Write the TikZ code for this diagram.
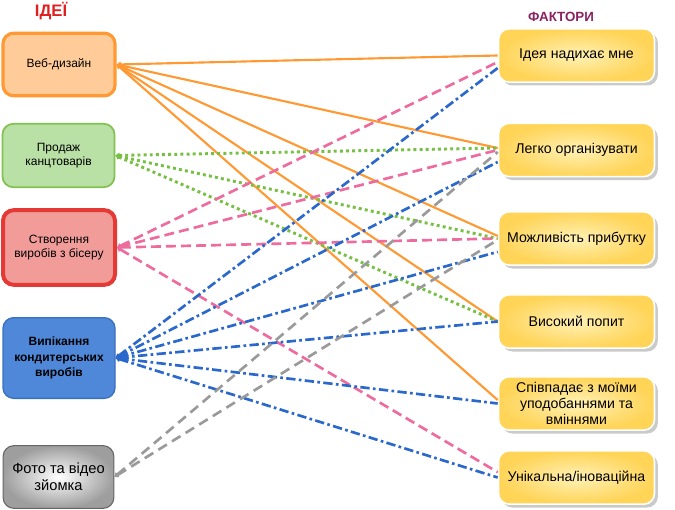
\documentclass[tikz,border=0pt]{standalone}
\usepackage{fontspec}
\setmainfont{Liberation Sans}
\usetikzlibrary{arrows.meta,shadows,shadings}
\definecolor{orL}{HTML}{FF9933}
\definecolor{orF}{HTML}{FFCC99}
\definecolor{grL}{HTML}{82C250}
\definecolor{grF}{HTML}{B9E0A5}
\definecolor{grD}{HTML}{77C043}
\definecolor{rdL}{HTML}{E53935}
\definecolor{rdF}{HTML}{F19C99}
\definecolor{blL}{HTML}{3A70C0}
\definecolor{blF}{HTML}{4F88D8}
\definecolor{blD}{HTML}{2A68CC}
\definecolor{pkD}{HTML}{EE6B9E}
\definecolor{gyD}{HTML}{9A9A9A}
\definecolor{ylIn}{HTML}{FFF1B5}
\definecolor{ylOut}{HTML}{FFD457}
\definecolor{ttlR}{HTML}{E02020}
\definecolor{ttlP}{HTML}{8B2260}
\tikzset{
  idea/.style={rounded corners=8pt, minimum width=84pt, align=center, font=\fontsize{9}{11}\selectfont, inner sep=2pt},
  factor/.style={rounded corners=8pt, minimum width=117pt, minimum height=40pt, align=center,
    draw=white, line width=1.2pt, inner color=ylIn, outer color=ylOut,
    drop shadow={shadow xshift=2.5pt, shadow yshift=-2.5pt, opacity=0.35, fill=black!60},
    font=\fontsize{10.6}{12.2}\selectfont, inner sep=2pt},
  tip/.style={arrows={Triangle[length=3pt,width=4pt]-}},
  orline/.style={tip, draw=orL, line width=1.6pt},
  grline/.style={tip, draw=grD, line width=2.2pt, dash pattern=on 2.2pt off 2.4pt},
  pkline/.style={tip, draw=pkD, line width=2pt, dash pattern=on 7.5pt off 3.8pt},
  blline/.style={tip, draw=blD, line width=2pt, dash pattern=on 7pt off 2.5pt on 2pt off 2.5pt},
  gyline/.style={tip, draw=gyD, line width=2pt, dash pattern=on 7.5pt off 4.5pt},
}
\begin{document}
\begin{tikzpicture}[x=0.75pt,y=-0.75pt]
\useasboundingbox (0,0) rectangle (675,510);
% titles
\node[font=\bfseries\fontsize{12.5}{14}\selectfont, text=ttlR] (t1) at (51,11.5) {ІДЕЇ};
\node[font=\bfseries\fontsize{10}{12}\selectfont, text=ttlP] (t2) at (561,17) {ФАКТОРИ};
% left nodes
\node[idea, draw=orL, fill=orF, line width=2.4pt, minimum height=47pt] (L1) at (59,64.5) {Веб-дизайн};
\node[idea, draw=grL, fill=grF, line width=1.3pt, minimum height=47.5pt] (L2) at (58.5,155.5) {Продаж\\канцтоварів};
\node[idea, draw=rdL, fill=rdF, line width=3pt, minimum height=56pt] (L3) at (59,247.5) {Створення\\виробів з бісеру};
\node[idea, draw=blL, fill=blF, line width=1pt, minimum height=60.5pt, font=\bfseries\fontsize{9}{11.5}\selectfont] (L4) at (59,358) {Випікання\\кондитерських\\виробів};
\node[idea, draw=black!60, inner color=white, outer color=black!38, line width=0.8pt, minimum width=83pt, minimum height=47pt, font=\fontsize{11}{13}\selectfont] (L5) at (58.5,477) {Фото та відео\\зйомка};
% right nodes
\node[factor] (R1) at (576.5,55.5) {Ідея надихає мне};
\node[factor] (R2) at (576.5,150) {Легко організувати};
\node[factor] (R3) at (576.5,238.5) {Можливість прибутку};
\node[factor] (R4) at (576.5,321.5) {Високий попит};
\node[factor] (R5) at (576.5,403.5) {Співпадає з моїми\\уподобаннями та\\вміннями};
\node[factor] (R6) at (576.5,477.5) {Унікальна/іноваційна};
% orange
\draw[orline] (L1.east) -- (R1.west);
\draw[orline] (L1.east) -- ([yshift=1.5pt]R2.west);
\draw[orline] (L1.east) -- ([yshift=1.9pt]R3.west);
\draw[orline] (L1.east) -- (R4.west);
\draw[orline] (L1.east) -- ([yshift=2.6pt]R5.west);
% green
\draw[grline] (L2.east) -- ([yshift=1.5pt]R2.west);
\draw[grline] (L2.east) -- (R3.west);
\draw[grline] (L2.east) -- (R4.west);
% pink
\draw[pkline] (L3.east) -- ([yshift=-4.9pt]R1.west);
\draw[pkline] (L3.east) -- (R2.west);
\draw[pkline] (L3.east) -- (R3.west);
\draw[pkline] (L3.east) -- ([yshift=4pt]R6.west);
% blue
\draw[blline] (L4.east) -- ([yshift=-9.4pt]R1.west);
\draw[blline] (L4.east) -- ([yshift=-9pt]R2.west);
\draw[blline] (L4.east) -- ([yshift=-10pt]R3.west);
\draw[blline] (L4.east) -- (R4.west);
\draw[blline] (L4.east) -- (R5.west);
\draw[blline] (L4.east) -- (R6.west);
% grey
\draw[gyline] (L5.east) -- ([yshift=-1.5pt]R2.west);
\draw[gyline] (L5.east) -- ([yshift=-1pt]R3.west);
\end{tikzpicture}
\end{document}
